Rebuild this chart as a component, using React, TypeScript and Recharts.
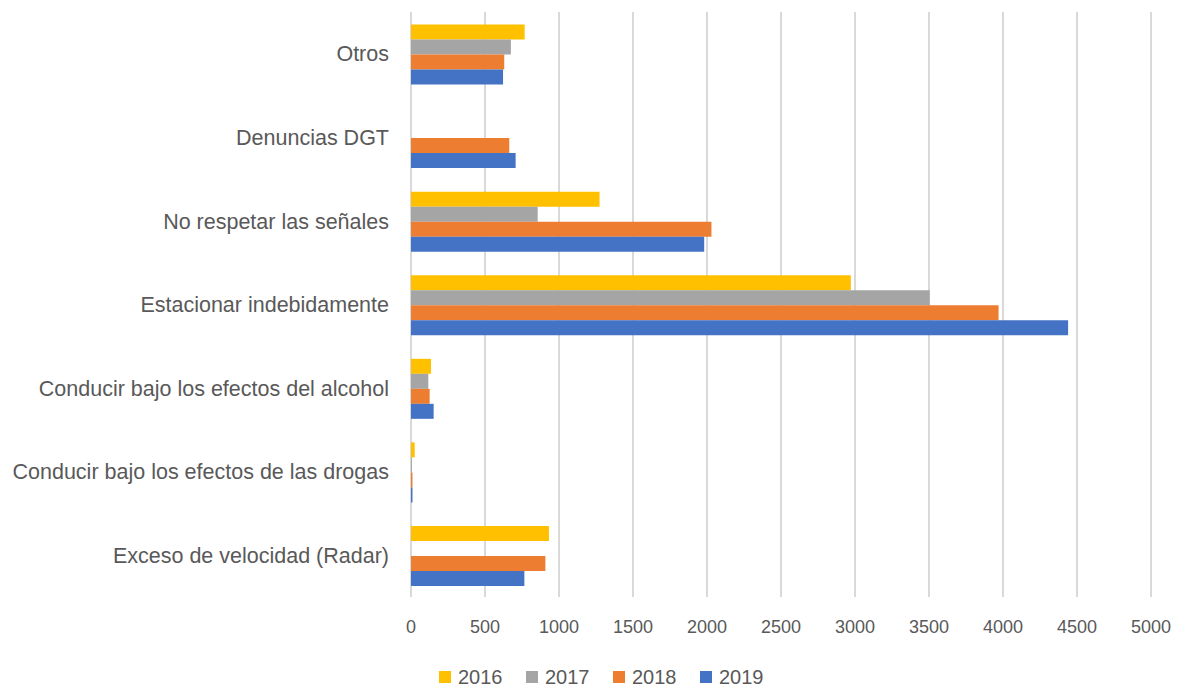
import React from "react";
import { BarChart, Bar, XAxis, YAxis, CartesianGrid } from "recharts";

const categories = [
  "Otros",
  "Denuncias DGT",
  "No respetar las señales",
  "Estacionar indebidamente",
  "Conducir bajo los efectos del alcohol",
  "Conducir bajo los efectos de las drogas",
  "Exceso de velocidad (Radar)",
];
const values2016: (number | null)[] = [768, null, 1274, 2972, 135, 25, 932];
const values2017: (number | null)[] = [675, null, 856, 3505, 117, 6, null];
const values2018: (number | null)[] = [630, 664, 2030, 3970, 126, 10, 908];
const values2019: (number | null)[] = [622, 707, 1981, 4440, 153, 10, 766];
const xTicks = [0, 500, 1000, 1500, 2000, 2500, 3000, 3500, 4000, 4500, 5000];

const series = [
  { key: "2016", color: "#FFC000" },
  { key: "2017", color: "#A5A5A5" },
  { key: "2018", color: "#ED7D31" },
  { key: "2019", color: "#4472C4" },
];

const data = categories.map((c, i) => ({
  name: c,
  "2016": values2016[i],
  "2017": values2017[i],
  "2018": values2018[i],
  "2019": values2019[i],
}));

const FONT = "'Liberation Sans', Arial, sans-serif";
const TEXT = "#595959";

export default function App() {
  return (
    <div style={{ position: "absolute", left: 0, top: 0, width: 1180, height: 691, background: "#fff" }}>
      <BarChart
        width={1180}
        height={691}
        data={data}
        layout="vertical"
        margin={{ top: 12, right: 29, bottom: 54, left: 0 }}
        barCategoryGap="15%"
        barGap={0}
      >
        <CartesianGrid horizontal={false} stroke="#D9D9D9" strokeWidth={2} />
        <XAxis
          type="number"
          domain={[0, 5000]}
          ticks={xTicks}
          axisLine={false}
          tickLine={false}
          tickSize={0}
          tickMargin={23}
          tick={{ fill: TEXT, fontSize: 18, fontFamily: FONT }}
          interval={0}
          height={40}
        />
        <YAxis
          type="category"
          dataKey="name"
          width={411}
          axisLine={false}
          tickLine={false}
          tickSize={0}
          tickMargin={22}
          tick={{ fill: TEXT, fontSize: 21.5, fontFamily: FONT }}
          interval={0}
        />
        {series.map((s) => (
          <Bar key={s.key} dataKey={s.key} fill={s.color} isAnimationActive={false} />
        ))}
      </BarChart>
      <div
        style={{
          position: "absolute",
          left: 439,
          top: 666,
          display: "flex",
          fontFamily: FONT,
          fontSize: 20,
          color: TEXT,
          lineHeight: "22px",
        }}
      >
        {series.map((s) => (
          <div key={s.key} style={{ display: "flex", alignItems: "center", width: 87 }}>
            <span style={{ width: 12, height: 12, background: s.color, display: "inline-block", marginRight: 7 }} />
            <span>{s.key}</span>
          </div>
        ))}
      </div>
    </div>
  );
}
